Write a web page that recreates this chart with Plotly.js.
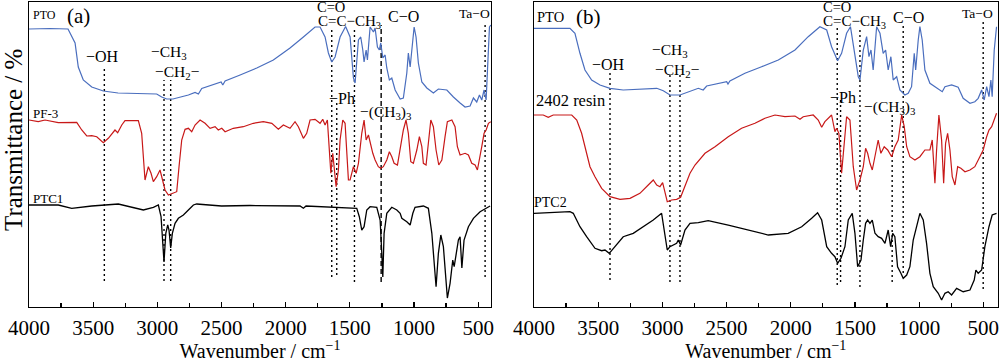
<!DOCTYPE html>
<html><head><meta charset="utf-8">
<script src="https://cdn.plot.ly/plotly-3.0.1.min.js"></script>
<style>html,body{margin:0;padding:0;background:#fff}#chart{width:1000px;height:362px}</style>
</head><body><div id="chart"></div>
<script>
// ---------- Panel (a) data: wavenumber (cm-1) and offset transmittance (a.u.) ----------
const aPTO_wn = [4000,3836,3696,3641,3616,3577,3511,3421,3306,3122,3005,2966,2927,2878,2810,2758,2706,2680,2654,2550,2503,2490,2472,2355,2225,2096,1966,1862,1771,1732,1693,1667,1641,1615,1576,1533,1498,1472,1459,1433,1415,1399,1389,1373,1363,1342,1316,1303,1285,1270,1259,1243,1225,1212,1192,1173,1147,1108,1083,1056,1044,1030,1017,999,984,966,939,900,849,810,744,693,641,602,563,537,511,490,472,454,438,428,412,401];
const aPTO_t = [278,278.5,278,264,240,227,220,216,214,213,213,210,208,208,210,212,214.5,213,218.5,223,225,222,226,232,239,247,259,270,280,280,270,254,245,250,270,280.5,270,229,224,267,270,257,245,257,247,280,275,279,260,257,264,249,252,239,227,229,217,208,209,234,254,240,257,280,270,244,225,219,214,218,217,210,204,200,201,209,205,212,207,217,207,240,280,282];

const aPF3_wn = [4000,3928,3875,3772,3628,3589,3550,3511,3472,3421,3382,3330,3309,3277,3252,3148,3122,3109,3096,3070,3049,3031,3005,2979,2961,2940,2914,2875,2849,2831,2810,2784,2758,2732,2706,2667,2628,2589,2550,2525,2498,2472,2408,2330,2252,2174,2108,2057,2018,1966,1927,1901,1862,1836,1810,1771,1732,1711,1693,1675,1659,1648,1633,1620,1607,1589,1576,1555,1537,1511,1498,1472,1451,1433,1407,1389,1373,1355,1342,1321,1303,1278,1259,1239,1212,1192,1173,1155,1129,1103,1083,1062,1044,1025,1005,978,958,939,927,906,888,869,849,828,807,783,758,740,705,680,662,641,602,576,550,524,506,490,472,454,438,420,401];
const aPF3_t = [187,185.3,187,184.3,184.7,177,171,171.3,170.3,164.3,168.7,177,174.3,182,186.3,186.3,173.7,150.3,127,140.3,133.7,125.3,130.3,137,128.7,117,112,114.3,115.3,140.3,167,177.7,178.7,175.3,182,187,183.7,178.7,180.3,177,178.7,175.3,178.7,180.3,183.7,185.3,183.7,177.7,182,178.7,185.3,180.3,168.7,173.7,187,187.7,183.7,187.7,182,187,157,133.7,153.7,137,120.3,137,167,187,183.7,127,127,140.3,133.7,143.7,173.7,187,167,172,163.7,153.7,147,140.3,138.7,140.3,147,155.3,150.3,143.7,142,163.7,177,187,173.7,145.3,143.7,157,170.3,160.3,143.7,142,167,187,180.3,157,142,147,170.3,185.3,187,180.3,160.3,152,153.7,152,143.7,142,137,147,160.3,173.7,177,183.7,185.3];

const aPTC1_wn = [4000,3772,3667,3511,3304,3109,3031,2992,2971,2958,2948,2934,2919,2909,2896,2883,2862,2836,2797,2758,2719,2693,2500,2278,2100,1888,1862,1841,1446,1426,1407,1389,1368,1342,1290,1264,1251,1243,1233,1212,1173,1134,1108,1095,1056,1030,1009,992,927,888,861,843,828,810,791,771,750,740,719,698,687,672,654,641,627,610,576,537,485,407];
const aPTC1_t = [102,102,98.7,101,103,97,99.7,102,90.3,67,45,73.7,82,77,59,73.7,83.7,88.7,92,97,102,103,101,101.5,101.5,101,98.7,101,98.7,90.3,77,80.3,97,100.3,99.7,87,53.7,30,73.7,93.7,99.7,97,93.7,88.7,85.3,82,93.7,99.7,101,98.7,73.7,40.3,20.3,53.7,72,60.3,30.3,9,23.7,47,40.3,53.7,67,70.3,39,67,80.3,88.7,95.3,101];

// ---------- Panel (b) data ----------
const bPTO_wn = [4000,3720,3681,3642,3603,3551,3486,3408,3305,3044,2993,2941,2863,2785,2720,2682,2655,2499,2489,2474,2357,2227,2097,1967,1864,1773,1720,1682,1635,1604,1565,1535,1506,1474,1461,1435,1409,1391,1375,1358,1331,1305,1280,1261,1241,1220,1202,1175,1150,1111,1085,1059,1038,1027,1007,994,976,955,916,864,820,799,747,696,657,604,566,540,513,493,474,456,441,431,415,397];
const bPTO_t = [278.7,278.7,273.7,253.7,237,227,222,218.7,217,218.7,216.3,212,212,215.3,218.7,217,221,225.3,223,226,233.7,240.3,247,257,270.3,280.3,277,260.3,246.3,253.7,273.7,280.3,257,230.3,227,257,270.3,250.3,257,237,280.3,273.7,253.7,257,237,250.3,227,230.3,217,212,213.7,220.3,253.7,237,267,280.3,267,237,223.7,218.7,215.3,220.3,222,219.7,208.7,203.7,205.3,208.7,217,207,220.3,210.3,227,210.3,257,280.3];

const bResin_wn = [4000,3928,3889,3850,3706,3667,3629,3590,3564,3525,3473,3408,3330,3252,3175,3110,3071,3044,3019,2998,2980,2962,2928,2889,2858,2824,2785,2746,2668,2590,2487,2383,2279,2201,2123,2045,1967,1928,1903,1825,1786,1759,1734,1682,1656,1643,1625,1604,1586,1565,1539,1513,1487,1461,1435,1417,1401,1383,1365,1331,1319,1298,1272,1245,1214,1189,1163,1136,1116,1097,1072,1033,994,955,916,898,877,864,846,825,809,794,778,760,742,721,700,675,643,604,566,527,501,474,456,435,415,397];
const bResin_t = [192,192,189.7,192,192,187,173.7,153.7,140.3,130.3,118.7,110.3,107.7,108.7,113.7,122,127,122,120.3,124.3,113.7,105.3,107,107.7,109.7,120.3,133.7,142,153.7,160.3,170.3,178.7,183.7,188.7,192,190.3,191,187.7,190.3,192,187,179.7,185.3,192,175.3,178.7,173.7,133.7,157,190.3,187,140.3,117,127,140.3,158.7,153.7,143.7,137,160.3,167,153.7,160.3,157,150.3,160.3,167,192,180.3,160.3,150.3,147,150.3,157,157,167,123.7,157,192,167,123.7,163.7,173.7,157,130.3,122,140.3,138.7,135.3,137,140.3,150.3,157,170.3,177,180.3,187,193.7];

const bPTC2_wn = [4000,3720,3694,3642,3590,3525,3473,3447,3414,3369,3305,3227,3149,3071,3006,2980,2962,2941,2915,2889,2876,2858,2824,2785,2720,2643,2487,2331,2175,2020,1915,1837,1791,1759,1720,1682,1656,1635,1609,1578,1552,1521,1500,1479,1453,1435,1417,1401,1383,1365,1344,1319,1292,1266,1241,1222,1206,1189,1168,1142,1124,1097,1072,1046,1020,994,968,942,916,890,851,825,799,774,747,708,657,604,571,558,540,513,488,456,431,397];
const bPTC2_t = [93.7,95.3,93.7,80.3,70.3,58.7,56.3,57,53.7,60.3,70.3,73.7,80.3,87,93.7,73.7,57,60.3,62,63.7,67,62,77,83.7,84.3,86.3,82,77,72,73.7,80.3,88.7,94.3,87,60.3,53.7,50.3,43.7,48.7,60.3,87,93.7,73.7,40.3,47,67,83.7,87,83.7,87,73.7,70.3,68.7,63.7,77,60.3,73.7,70.3,40.3,33.7,28.7,32,40.3,67,80.3,93.7,87,63.7,33.7,20.3,13.7,7,13.7,15.3,12,18.7,15.3,17,27,37,33.7,37,60.3,80.3,92,93.7];

// ---------- Band marker lines (wavenumber, lower and upper ends) ----------
const aMark_wn = [3413,2948,2896,1641,1602,1464,446];
const aMark_lo = [26,26,26,30,32,25,30];
const aMark_hi = [239,227,227,279,204,280,284];
const aDash_wn = [1256];
const aDash_lo = [25];
const aDash_hi = [282];
const bMark_wn = [3408,2941,2863,1638,1612,1461,1210,1124,501];
const bMark_lo = [27,25,25,22,25,20,25,34,18];
const bMark_hi = [235,234,234,280,207,279,192,282,287];

// ---------- Text labels ----------
const aLabels = ['PTO','(a)','−OH','−CH<sub>3</sub>','−CH<sub>2</sub>−','C=O','C=C−CH<sub>3</sub>','C−O','Ta−O','−Ph','−(CH<sub>3</sub>)<sub>3</sub>','PF-3','PTC1'];
const bLabels = ['PTO','(b)','−OH','−CH<sub>3</sub>','−CH<sub>2</sub>−','C=O','C=C−CH<sub>3</sub>','C−O','Ta−O','−Ph','−(CH<sub>3</sub>)<sub>3</sub>','2402 resin','PTC2'];
const xTitle = 'Wavenumber / cm<sup>−1</sup>';
const yTitle = 'Transmittance / %';

// ---------- Styling / placement ----------
const FONT = '"Liberation Serif", "Times New Roman", serif';
const BLUE = '#4A6EBE', RED = '#C81818', BLACK = '#000000';
const aLabelPos = [[3878,292,12],[3616,291,21],[3427,250,16],[2909,254,15.5],[2843,234,15.5],[1644,300,14.5],[1500,285,15],[1083,290,16],[532,293,13.5],[1563,209,16],[1219,195,15.5],[3869,194,13],[3852,109,13]];
const bLabelPos = [[3868,290,14.5],[3572,290,21],[3416,242,16],[2941,256,15.5],[2886,236,15.5],[1643,300,14.5],[1500,285,15],[1080,289,16],[546,293,13.5],[1591,210,16],[1228,200,15.5],[3716,207,16.5],[3868,105,14]];

function segs(wn, lo, hi) {
  const x = [], y = [];
  wn.forEach((w, i) => { x.push(w, w, null); y.push(lo[i], hi[i], null); });
  return {x, y};
}
function line(x, y, color, xa, ya, w, dash) {
  return {x, y, type:'scatter', mode:'lines', xaxis:xa, yaxis:ya, line:{color, width:w||1.2, dash:dash||'solid'}, hoverinfo:'skip', showlegend:false};
}
const mA = segs(aMark_wn, aMark_lo, aMark_hi);
const dA = segs(aDash_wn, aDash_lo, aDash_hi);
const mB = segs(bMark_wn, bMark_lo, bMark_hi);

const traces = [
  line(mA.x, mA.y, BLACK, 'x', 'y', 1.4, '2px,3px'),
  line(dA.x, dA.y, BLACK, 'x', 'y', 1.4, '5px,3px'),
  line(mB.x, mB.y, BLACK, 'x2', 'y2', 1.4, '2px,3px'),
  line(aPTO_wn, aPTO_t, BLUE, 'x', 'y'),
  line(aPF3_wn, aPF3_t, RED, 'x', 'y'),
  line(aPTC1_wn, aPTC1_t, BLACK, 'x', 'y', 1.3),
  line(bPTO_wn, bPTO_t, BLUE, 'x2', 'y2'),
  line(bResin_wn, bResin_t, RED, 'x2', 'y2'),
  line(bPTC2_wn, bPTC2_t, BLACK, 'x2', 'y2', 1.3)
];

function xAxis(domain, range, anchor) {
  return {domain, range, anchor, showline:true, mirror:true, linecolor:'#000', linewidth:1.3,
    ticks:'inside', ticklen:5, tickwidth:1.2, tickcolor:'#000', tick0:0, dtick:500,
    minor:{dtick:250, ticks:'inside', ticklen:4, tickwidth:1.2, tickcolor:'#000'},
    showgrid:false, zeroline:false, fixedrange:true,
    tickfont:{family:FONT, size:21, color:'#000'}, ticklabelstandoff:1,
    title:{text:xTitle, font:{family:FONT, size:20, color:'#000'}, standoff:6}};
}
function yAxis(anchor) {
  return {domain:[0.1519, 0.9945], range:[0, 305], anchor, showline:true, mirror:true, linecolor:'#000', linewidth:1.3,
    ticks:'', showticklabels:false, showgrid:false, zeroline:false, fixedrange:true};
}
const annotations = [];
aLabels.forEach((t, i) => annotations.push({xref:'x', yref:'y', x:aLabelPos[i][0], y:aLabelPos[i][1], text:t, showarrow:false, xanchor:'center', yanchor:'middle', font:{family:FONT, size:aLabelPos[i][2], color:'#000'}}));
bLabels.forEach((t, i) => annotations.push({xref:'x2', yref:'y2', x:bLabelPos[i][0], y:bLabelPos[i][1], text:t, showarrow:false, xanchor:'center', yanchor:'middle', font:{family:FONT, size:bLabelPos[i][2], color:'#000'}}));
annotations.push({xref:'paper', yref:'paper', x:0.013, y:1 - 140/362, text:yTitle, textangle:-90, showarrow:false, xanchor:'center', yanchor:'middle', font:{family:FONT, size:25, color:'#000'}});

const layout = {
  width:1000, height:362, margin:{l:0, r:0, t:0, b:0, pad:0},
  paper_bgcolor:'#fff', plot_bgcolor:'#fff', showlegend:false,
  font:{family:FONT, color:'#000'},
  xaxis: xAxis([0.029, 0.491], [4000, 400], 'y'),
  yaxis: yAxis('x'),
  xaxis2: xAxis([0.534, 0.9977], [4000, 388], 'y2'),
  yaxis2: yAxis('x2'),
  annotations
};
Plotly.newPlot('chart', traces, layout, {displayModeBar:false, staticPlot:true});
</script></body></html>
